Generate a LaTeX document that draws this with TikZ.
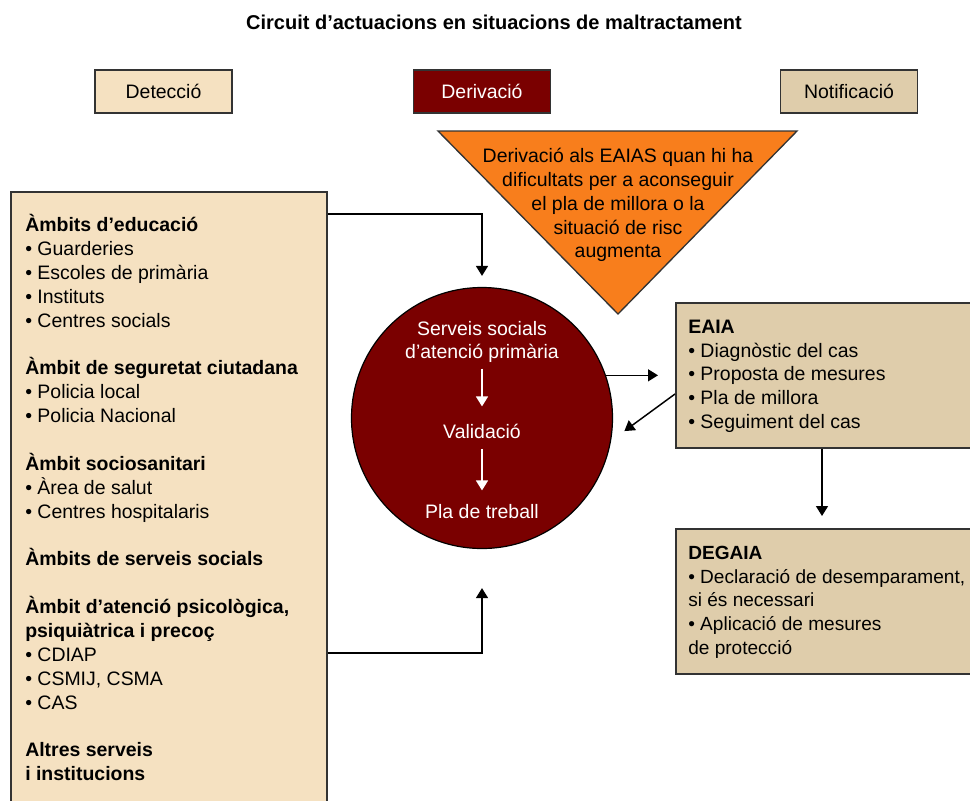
\documentclass[tikz,border=0pt]{standalone}
\usepackage{fontspec}
\setmainfont{Liberation Sans}
\usetikzlibrary{arrows.meta}
\definecolor{cream}{HTML}{F5E1C1}
\definecolor{tanbox}{HTML}{DFCDAB}
\definecolor{maroonfill}{HTML}{7A0000}
\definecolor{orangefill}{HTML}{F87E1C}
\definecolor{edgegray}{HTML}{333333}
\begin{document}
\begin{tikzpicture}[x=0.75pt,y=-0.75pt,
  bodyfont/.style={font=\fontsize{14.6}{17.9}\selectfont},
  boxline/.style={draw=edgegray,line width=1.4pt},
  topbox/.style={boxline,bodyfont,minimum width=102.75pt,minimum height=32.25pt,inner sep=0pt},
  textblock/.style={bodyfont,anchor=north west,align=left,inner sep=0pt},
  arr/.style={draw=black,line width=1.1pt,-{Triangle[length=7.5pt,width=9pt]}},
  warr/.style={draw=white,line width=1.1pt,-{Triangle[length=7.5pt,width=9pt]}}]
\clip (0,0) rectangle (970,800);
\fill[white] (0,0) rectangle (970,800);
% helper coordinates
\coordinate (y214) at (0,214);
\coordinate (y653) at (0,653);
\coordinate (y394) at (0,394);
\coordinate (x822) at (822,0);
% title
\node[font=\fontsize{15}{18}\selectfont\bfseries] (title) at (494,22) {Circuit d’actuacions en situacions de maltractament};
% top boxes
\node[topbox,fill=cream] (det) at (163.5,91.5) {Detecció};
\node[topbox,fill=maroonfill,text=white] (der) at (482,91.5) {Derivació};
\node[topbox,fill=tanbox] (notif) at (849,91.5) {Notificació};
% triangle
\coordinate (tl) at (438,131);
\coordinate (tr) at (797,131);
\coordinate (tb) at (618,314);
\draw[draw=edgegray,line width=1pt,fill=orangefill] (tl) -- (tr) -- (tb) -- cycle;
\node[bodyfont,align=center,inner sep=0pt] (tri) at (618,205) {Derivació als EAIAS quan hi ha\\dificultats per a aconseguir\\el pla de millora o la\\situació de risc\\augmenta};
% left box
\node[boxline,fill=cream,anchor=north west,minimum width=237pt,minimum height=465pt,inner sep=0pt] (left) at (10,191) {};
\node[textblock] (lefttext) at (25,214.2) {\strut\textbf{Àmbits d’educació}\\
• Guarderies\\
• Escoles de primària\\
• Instituts\\
• Centres socials\\[17.9pt]
\textbf{Àmbit de seguretat ciutadana}\\
• Policia local\\
• Policia Nacional\\[17.9pt]
\textbf{Àmbit sociosanitari}\\
• Àrea de salut\\
• Centres hospitalaris\\[17.9pt]
\textbf{Àmbits de serveis socials}\\[17.9pt]
\textbf{Àmbit d’atenció psicològica,}\\
\textbf{psiquiàtrica i precoç}\\
• CDIAP\\
• CSMIJ, CSMA\\
• CAS\\[17.9pt]
\textbf{Altres serveis}\\
\textbf{i institucions}};
% circle
\node[circle,draw=black,line width=0.9pt,fill=maroonfill,minimum size=195.75pt,inner sep=0pt] (circ) at (482,418) {};
\node[bodyfont,text=white,align=center,inner sep=0pt] (ssap) at (482,342) {Serveis socials\\d’atenció primària};
\node[bodyfont,text=white,inner sep=0pt,text height=10.5pt,text depth=3pt] (val) at (482,433) {Validació};
\node[bodyfont,text=white,inner sep=0pt,text height=10.5pt,text depth=3pt] (pla) at (482,513) {Pla de treball};
\draw[warr,shorten <=4pt,shorten >=13pt] (ssap) -- (val);
\draw[warr,shorten <=5pt,shorten >=10pt] (val) -- (pla);
% right boxes
\node[boxline,fill=tanbox,anchor=north west,minimum width=225pt,minimum height=108.75pt,inner sep=0pt] (eaia) at (675,302) {};
\node[textblock] (eaiatext) at (688,316.2) {\strut\textbf{EAIA}\\
• Diagnòstic del cas\\
• Proposta de mesures\\
• Pla de millora\\
• Seguiment del cas};
\node[boxline,fill=tanbox,anchor=north west,minimum width=225pt,minimum height=108.75pt,inner sep=0pt] (degaia) at (675,528) {};
\node[textblock,font=\fontsize{14.3}{17.9}\selectfont] (degaiatext) at (688,542.2) {\strut\textbf{DEGAIA}\\
• Declaració de desemparament,\\
si és necessari\\
• Aplicació de mesures\\
de protecció};
% connectors
\draw[arr,shorten >=8.25pt] (left.east |- y214) -| (circ.north);
\draw[arr,shorten >=29.25pt] (left.east |- y653) -| (circ.south);
\draw[arr,shorten >=12.75pt] (circ.19) -- (eaia.west |- circ.19);
\draw[arr,shorten >=12.3pt] (eaia.west |- y394) -- (circ.-10);
\draw[arr,shorten >=9pt] (eaia.south -| x822) -- (degaia.north -| x822);
\end{tikzpicture}
\end{document}
